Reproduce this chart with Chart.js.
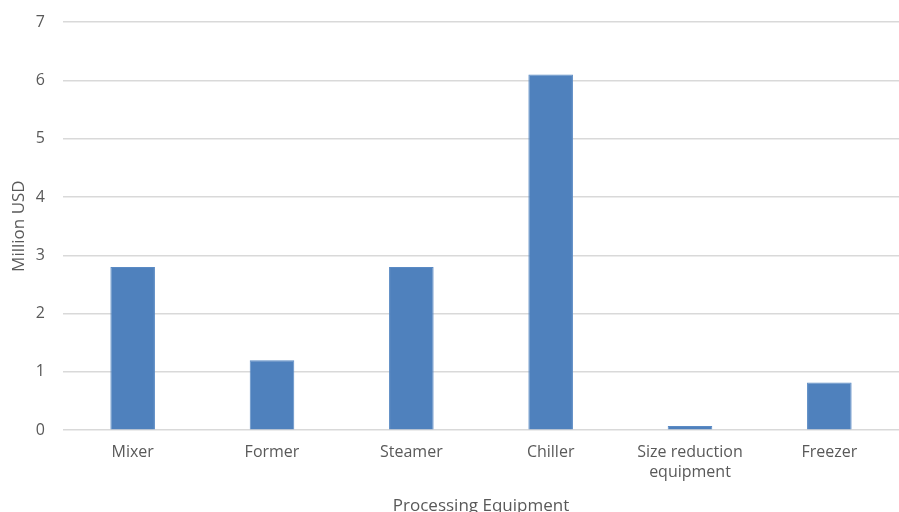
<!DOCTYPE html>
<html>
<head>
<meta charset="utf-8">
<script src="https://cdn.jsdelivr.net/npm/chart.js@4.4.1/dist/chart.umd.min.js"></script>
<style>
  html, body { margin: 0; padding: 0; background: #fff; overflow: hidden; }
  #wrap { width: 899px; height: 516px; }
</style>
</head>
<body>
<div id="wrap"><canvas id="equipChart" width="899" height="516"></canvas></div>
<script>
const equipment = ['Mixer', 'Former', 'Steamer', 'Chiller', ['Size reduction', 'equipment'], 'Freezer'];
const costMillion = [2.8, 1.2, 2.8, 6.1, 0.07, 0.82];
const yTicks = [0, 1, 2, 3, 4, 5, 6, 7];

const textGray = '#595959';
const gridGray = '#d9d9d9';
Chart.defaults.font.family = "'Open Sans', 'Liberation Sans', sans-serif";
Chart.defaults.color = textGray;

const ctx = document.getElementById('equipChart').getContext('2d');
new Chart(ctx, {
    type: 'bar',
    data: {
        labels: equipment,
        datasets: [{
            label: 'Million USD',
            data: costMillion,
            backgroundColor: '#4f81bd',
            borderColor: '#5a8ac4',
            borderWidth: 1,
            barPercentage: 0.32,
            categoryPercentage: 1
        }]
    },
    options: {
        responsive: false,
        animation: false,
        layout: { padding: { top: 22, right: 0, bottom: 0, left: 9 } },
        plugins: {
            legend: { display: false },
            tooltip: { enabled: false }
        },
        scales: {
            x: {
                grid: { display: false },
                border: { display: false },
                ticks: { font: { size: 16 }, color: textGray, padding: 5, maxRotation: 0 },
                title: {
                    display: true,
                    text: 'Processing Equipment',
                    font: { size: 17 },
                    color: textGray,
                    padding: { top: 9, bottom: 0 }
                }
            },
            y: {
                min: 0,
                max: 7,
                afterBuildTicks: axis => { axis.ticks = yTicks.map(v => ({ value: v })); },
                // fixed axis width keeps the labels close to the title
                afterFit: axis => {
                    axis.width = 54;
                    axis.paddingTop = 0;
                    axis.paddingBottom = 0;
                },
                grid: { color: gridGray, lineWidth: 1.5, drawTicks: false },
                border: { display: false },
                ticks: { font: { size: 16 }, color: textGray, padding: 18 },
                title: {
                    display: true,
                    text: 'Million USD',
                    font: { size: 17 },
                    color: textGray,
                    padding: { top: 0, bottom: 0 }
                }
            }
        }
    }
});
</script>
</body>
</html>
